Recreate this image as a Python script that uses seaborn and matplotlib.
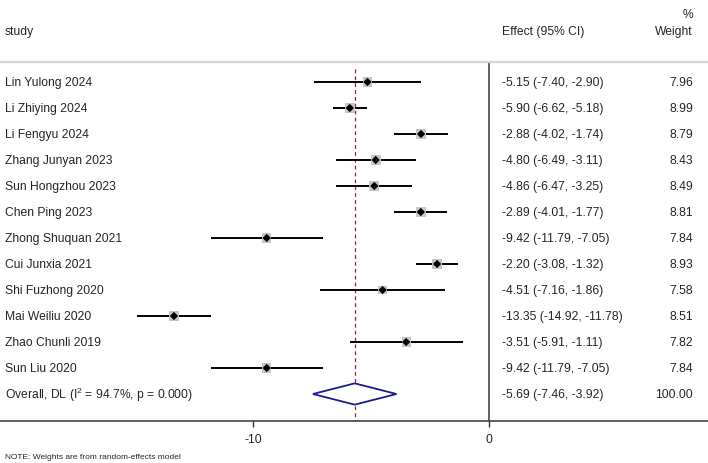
import matplotlib
matplotlib.use("Agg")
import matplotlib.pyplot as plt
import seaborn as sns
import pandas as pd
import numpy as np

studies = ["Lin Yulong 2024", "Li Zhiying 2024", "Li Fengyu 2024", "Zhang Junyan 2023",
           "Sun Hongzhou 2023", "Chen Ping 2023", "Zhong Shuquan 2021", "Cui Junxia 2021",
           "Shi Fuzhong 2020", "Mai Weiliu 2020", "Zhao Chunli 2019", "Sun Liu 2020"]
effect = [-5.15, -5.90, -2.88, -4.80, -4.86, -2.89, -9.42, -2.20, -4.51, -13.35, -3.51, -9.42]
lower = [-7.40, -6.62, -4.02, -6.49, -6.47, -4.01, -11.79, -3.08, -7.16, -14.92, -5.91, -11.79]
upper = [-2.90, -5.18, -1.74, -3.11, -3.25, -1.77, -7.05, -1.32, -1.86, -11.78, -1.11, -7.05]
weight = [7.96, 8.99, 8.79, 8.43, 8.49, 8.81, 7.84, 8.93, 7.58, 8.51, 7.82, 7.84]

overall_label = r"Overall, DL (I$^{2}$ = 94.7%, p = 0.000)"
overall_es, overall_lo, overall_hi, overall_w = -5.69, -7.46, -3.92, 100.00
xticks = [-10, 0]
note = "NOTE: Weights are from random-effects model"

sns.set_style("white")
plt.rcParams["font.family"] = ["Liberation Sans", "DejaVu Sans"]
plt.rcParams["mathtext.fontset"] = "custom"
plt.rcParams["mathtext.rm"] = "Liberation Sans"
plt.rcParams["mathtext.it"] = "Liberation Sans:italic"

W, H = 708, 464
fig = plt.figure(figsize=(W / 100, H / 100), dpi=100)
axis_px = 422
ax = fig.add_axes([0, (H - axis_px) / H, 1, axis_px / H])

px_per_unit = 23.6
x0_px = 489
ax.set_xlim((0 - x0_px) / px_per_unit, (W - x0_px) / px_per_unit)
row0_px, row_step = 83, 26
ax.set_ylim((axis_px - row0_px) / row_step, (0 - row0_px) / row_step)

df = pd.DataFrame({"study": studies, "effect": effect, "lower": lower,
                   "upper": upper, "weight": weight})
df["row"] = np.arange(len(df))

fs = 8.7
# CI lines
ax.hlines(df["row"], df["lower"], df["upper"], color="black", lw=1.4, zorder=2)
# weight boxes
sns.scatterplot(data=df, x="effect", y="row", size="weight", sizes=(40, 55),
                marker="s", color="#c6c6c6", edgecolor="none", legend=False, ax=ax, zorder=3)
sns.scatterplot(data=df, x="effect", y="row", marker="D", s=18, color="black",
                edgecolor="none", legend=False, ax=ax, zorder=4)

n = len(df)
# overall diamond
dh = 0.41
ax.fill([overall_lo, overall_es, overall_hi, overall_es, overall_lo],
        [n, n - dh, n, n + dh, n], facecolor="white", edgecolor="#1c1c8c", lw=1.3, zorder=3)

# reference lines
ax.vlines(overall_es, -0.5, (axis_px - row0_px) / row_step, colors="#8b2a2a",
          linestyles=(0, (3, 2.5)), lw=0.9, zorder=1)
ax.vlines(0, (62 - row0_px) / row_step, (axis_px - row0_px) / row_step,
          colors="#333333", lw=1.1, zorder=1)
ax.axhline((63 - row0_px) / row_step, color="#d4d4d4", lw=1.6, zorder=1)

# text columns
trans = ax.get_yaxis_transform()
for _, r in df.iterrows():
    ax.text(5 / W, r["row"], r["study"], transform=trans, ha="left", va="center", fontsize=fs)
    ax.text(502 / W, r["row"], f"{r['effect']:.2f} ({r['lower']:.2f}, {r['upper']:.2f})",
            transform=trans, ha="left", va="center", fontsize=fs)
    ax.text(693 / W, r["row"], f"{r['weight']:.2f}", transform=trans, ha="right",
            va="center", fontsize=fs)
ax.text(5 / W, n, overall_label, transform=trans, ha="left", va="center", fontsize=fs)
ax.text(502 / W, n, f"{overall_es:.2f} ({overall_lo:.2f}, {overall_hi:.2f})",
        transform=trans, ha="left", va="center", fontsize=fs)
ax.text(693 / W, n, f"{overall_w:.2f}", transform=trans, ha="right", va="center", fontsize=fs)

hdr = (32 - row0_px) / row_step
ax.text(5 / W, hdr, "study", transform=trans, ha="left", va="center", fontsize=fs)
ax.text(502 / W, hdr, "Effect (95% CI)", transform=trans, ha="left", va="center", fontsize=fs)
ax.text(693 / W, hdr, "Weight", transform=trans, ha="right", va="center", fontsize=fs)
ax.text(693 / W, (15 - row0_px) / row_step, "%", transform=trans, ha="right",
        va="center", fontsize=fs)

# axes styling
for s in ["top", "left", "right"]:
    ax.spines[s].set_visible(False)
ax.spines["bottom"].set_color("#333333")
ax.spines["bottom"].set_linewidth(1.1)
ax.set_yticks([])
ax.set_xticks(xticks)
ax.set_xticklabels([str(t) for t in xticks], fontsize=fs)
ax.tick_params(axis="x", direction="out", length=4, width=1, color="#333333", pad=5,
               bottom=True)
ax.set_xlabel("")
ax.set_ylabel("")
ax.grid(False)

fig.text(5 / W, 1 - 458 / H, note, ha="left", va="center", fontsize=6)

fig.savefig("out.png", dpi=100)
